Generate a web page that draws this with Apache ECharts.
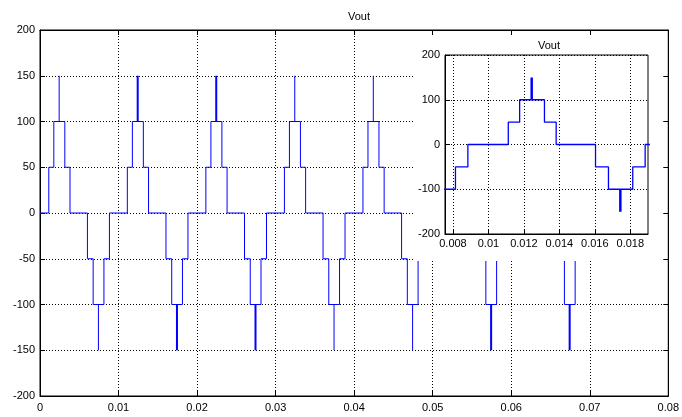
<!DOCTYPE html>
<html><head><meta charset="utf-8">
<script src="https://cdn.jsdelivr.net/npm/echarts@6/dist/echarts.min.js"></script>
<style>html,body{margin:0;padding:0;background:#fff}#c{width:682px;height:417px}</style>
</head><body><div id="c"></div>
<script>
// Waveform: one cycle's switching instants (offset within a 0.01 s cycle)
const cycleStarts = [0, 0.01, 0.02, 0.03, 0.04, 0.05, 0.06, 0.07];
const edgeOffsets = [0.00112, 0.00176, 0.00316, 0.00382, 0.00604, 0.00677, 0.00814, 0.00884];
const edgeLevels  = [50, 100, 50, 0, -50, -100, -50, 0];
const spikeOffsets = [0.00244, 0.00744];
const spikeBase = [100, -100];
const spikePeaks = [150, -150];
// spike drawn heavy (1) or light (0), per cycle [positive, negative]
const spikeHeavy = [[0,0],[1,1],[1,1],[0,0],[0,0],[1,1],[1,1],[0,0]];
const endTime = 0.075;
const insetXTicks = [0.008, 0.010, 0.012, 0.014, 0.016, 0.018];

function buildSteps() {
  const pts = [[0, 0]];
  let level = 0;
  cycleStarts.forEach(c => {
    edgeOffsets.forEach((o, i) => {
      const t = c + o;
      if (t > endTime) return;
      pts.push([t, level]); pts.push([t, edgeLevels[i]]); level = edgeLevels[i];
    });
  });
  pts.push([endTime, level]);
  return pts;
}
function buildSpikes(heavy) {
  const pts = [];
  cycleStarts.forEach((c, ci) => {
    spikeOffsets.forEach((o, i) => {
      const t = c + o;
      if (t > endTime || spikeHeavy[ci][i] !== heavy) return;
      pts.push([t, spikeBase[i]]); pts.push([t, spikePeaks[i]]); pts.push([t, '-']);
    });
  });
  return pts;
}
const steps = buildSteps();
const spikesLight = buildSpikes(0);
const spikesHeavy = buildSpikes(1);

const font = 'Liberation Sans';
const lbl = {color: '#000', fontSize: 11, fontFamily: font};
const dotted = {show: true, lineStyle: {color: '#000', width: 1, type: [1, 2]}};
const axLine = {show: true, onZero: false, lineStyle: {color: '#000', width: 1}};
const tick = {show: true, inside: true, length: 5, lineStyle: {color: '#000'}};
const blue = '#0000ff';

function line(xi, yi, data, w, z) {
  return {type: 'line', xAxisIndex: xi, yAxisIndex: yi, data: data, showSymbol: false, symbol: 'none',
          connectNulls: false, clip: true, lineStyle: {color: blue, width: w, join: 'bevel'}, z: z};
}

const chart = echarts.init(document.getElementById('c'), null, {renderer: 'canvas'});
chart.setOption({
  animation: false,
  backgroundColor: '#fff',
  title: [
    {text: 'Vout', left: 343, top: 6, textStyle: {fontSize: 11, fontWeight: 'normal', color: '#000', fontFamily: font}},
    {text: 'Vout', left: 533, top: 35, z: 30, textStyle: {fontSize: 11, fontWeight: 'normal', color: '#000', fontFamily: font}}
  ],
  grid: [
    {left: 40, top: 30, width: 629, height: 366, show: true, borderColor: '#000', borderWidth: 1},
    {left: 445, top: 55, width: 203, height: 179, show: true, borderColor: '#000', borderWidth: 1, backgroundColor: '#fff', z: 20}
  ],
  graphic: [
    {type: 'rect', shape: {x: 414, y: 36, width: 249, height: 225}, style: {fill: '#fff'}, z: 10}
  ],
  xAxis: [
    {type: 'value', gridIndex: 0, min: 0, max: 0.08, interval: 0.01, axisLine: axLine, axisTick: tick,
     axisLabel: Object.assign({margin: 6}, lbl), splitLine: dotted},
    {type: 'value', gridIndex: 0, position: 'top', min: 0, max: 0.08, interval: 0.01, axisLine: axLine, axisTick: tick,
     axisLabel: {show: false}, splitLine: {show: false}, z: 15},
    {type: 'value', gridIndex: 1, min: 0.00755, max: 0.019, axisLine: axLine,
     axisTick: Object.assign({customValues: insetXTicks}, tick),
     axisLabel: Object.assign({margin: 4, customValues: insetXTicks, formatter: v => String(+(+v).toFixed(3))}, lbl),
     splitLine: dotted, z: 20}
  ],
  yAxis: [
    {type: 'value', gridIndex: 0, min: -200, max: 200, interval: 50, axisLine: axLine, axisTick: tick,
     axisLabel: Object.assign({margin: 5}, lbl), splitLine: dotted},
    {type: 'value', gridIndex: 0, position: 'right', min: -200, max: 200, interval: 50, axisLine: axLine, axisTick: tick,
     axisLabel: {show: false}, splitLine: {show: false}, z: 15},
    {type: 'value', gridIndex: 1, min: -200, max: 200, interval: 100, axisLine: axLine, axisTick: tick,
     axisLabel: Object.assign({margin: 5}, lbl), splitLine: dotted, z: 20}
  ],
  series: [
    line(0, 0, steps, 1, 2),
    line(0, 0, spikesLight, 1, 2),
    line(0, 0, spikesHeavy, 2, 2),
    line(2, 2, steps, 1.3, 21),
    line(2, 2, spikesLight, 1.3, 21),
    line(2, 2, spikesHeavy, 2.5, 21)
  ]
});
</script></body></html>
